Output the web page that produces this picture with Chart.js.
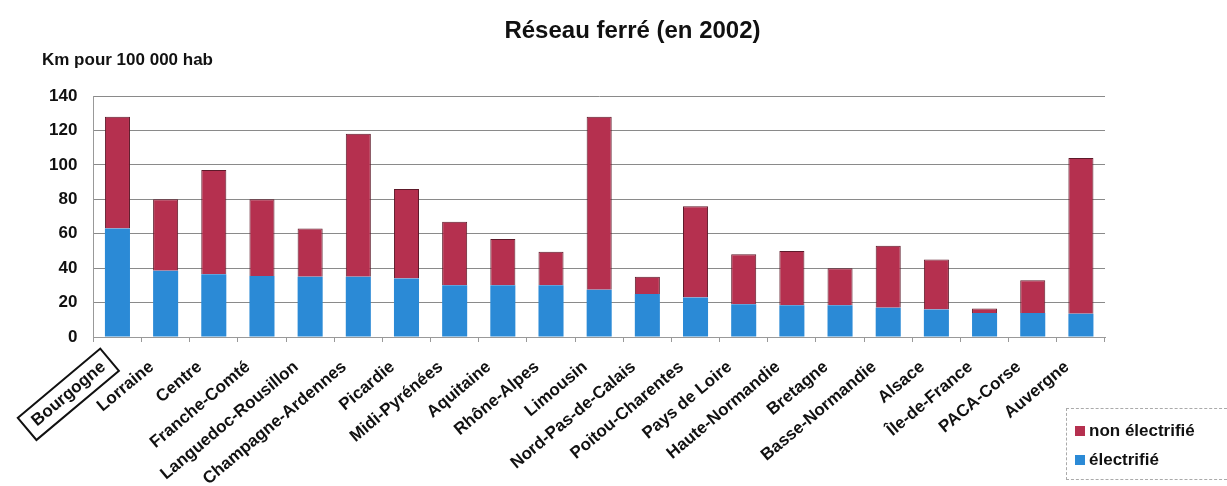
<!DOCTYPE html>
<html>
<head>
<meta charset="utf-8">
<script src="https://cdn.jsdelivr.net/npm/chart.js@4.4.1/dist/chart.umd.min.js"></script>
<style>
  body { margin: 0; background: #fff; font-family: "Liberation Sans", Arial, sans-serif; }
  #wrap { position: relative; width: 1227px; height: 486px; }
  #title { position: absolute; left: 0; width: 1265px; top: 16px; text-align: center; font-weight: bold; font-size: 24px; color: #111; }
  #unit { position: absolute; left: 42px; top: 50px; font-weight: bold; font-size: 17px; color: #111; }
  #legend { position: absolute; left: 1066px; top: 408px; width: 161px; height: 72px; border: 1px dashed #aaa; border-right: none; box-sizing: border-box; padding: 7px 0 0 8px; font-weight: bold; font-size: 17px; color: #111; }
  #legend div { height: 29px; line-height: 29px; }
  #legend span { display: inline-block; width: 10px; height: 10px; margin-right: 4px; }
</style>
</head>
<body>
<div id="wrap">
  <canvas id="railChart" width="1227" height="486"></canvas>
  <div id="title">Réseau ferré (en 2002)</div>
  <div id="unit">Km pour 100 000 hab</div>
  <div id="legend">
    <div><span style="background:#b5304f"></span>non électrifié</div>
    <div><span style="background:#2b8ad6"></span>électrifié</div>
  </div>
</div>
<script>
// Régions (ordre du graphique)
const regions = ['Bourgogne', 'Lorraine', 'Centre', 'Franche-Comté', 'Languedoc-Rousillon',
  'Champagne-Ardennes', 'Picardie', 'Midi-Pyrénées', 'Aquitaine', 'Rhône-Alpes', 'Limousin',
  'Nord-Pas-de-Calais', 'Poitou-Charentes', 'Pays de Loire', 'Haute-Normandie', 'Bretagne',
  'Basse-Normandie', 'Alsace', 'Île-de-France', 'PACA-Corse', 'Auvergne'];

// km pour 100 000 hab
const electrifie = [63, 38.5, 36.5, 35.5, 35, 35, 34, 30, 30, 30, 27.5, 25, 23, 19, 18.5, 18.5, 17, 16, 14, 14, 13.5];
const nonElectrifie = [65, 41.5, 60.5, 44.5, 28, 83, 52, 37, 27, 19.5, 100.5, 10, 53, 29, 31.5, 21.5, 36, 29, 2.5, 19, 90.5];

const yTicks = [0, 20, 40, 60, 80, 100, 120, 140];

// Cadre autour de la région mise en avant (Bourgogne)
const boxLabel = {
    id: 'boxLabel',
    afterDraw(chart) {
        const scale = chart.scales.x;
        const item = scale.getLabelItems()[0];
        if (!item) return;
        const ctx = chart.ctx;
        const o = item.options;
        ctx.save();
        ctx.font = item.font.string;
        const w = ctx.measureText(item.label).width;
        const h = item.font.size;
        const mid = item.textOffset || 0;
        ctx.translate(o.translation[0], o.translation[1]);
        ctx.rotate(o.rotation);
        ctx.strokeStyle = '#111';
        ctx.lineWidth = 2;
        ctx.strokeRect(-w - 9, mid - h / 2 - 6, w + 17, h + 12);
        ctx.restore();
    }
};

const ctx = document.getElementById('railChart').getContext('2d');
new Chart(ctx, {
    type: 'bar',
    data: {
        labels: regions,
        datasets: [{
            label: 'électrifié',
            data: electrifie,
            backgroundColor: '#2b8ad6',
            borderWidth: 0,
            barPercentage: 0.52,
            categoryPercentage: 1
        }, {
            label: 'non électrifié',
            data: nonElectrifie,
            backgroundColor: '#b5304f',
            borderColor: '#5e1a2a',
            borderWidth: 1,
            borderSkipped: 'bottom',
            barPercentage: 0.52,
            categoryPercentage: 1
        }]
    },
    options: {
        responsive: false,
        animation: false,
        layout: { padding: { top: 96, left: 33, right: 122, bottom: 0 } },
        plugins: {
            legend: { display: false },
            tooltip: { enabled: false }
        },
        scales: {
            x: {
                stacked: true,
                grid: { offset: true, drawOnChartArea: false, drawTicks: true, tickLength: 5, color: '#999' },
                border: { color: '#999' },
                ticks: {
                    minRotation: 40,
                    maxRotation: 40,
                    autoSkip: false,
                    padding: 15,
                    labelOffset: -14,
                    color: '#111',
                    font: { family: 'Liberation Sans', weight: 'bold', size: 17 }
                },
                afterFit(scale) { scale.height = 149; }
            },
            y: {
                stacked: true,
                min: 0,
                max: 140,
                afterBuildTicks(scale) { scale.ticks = yTicks.map(v => ({ value: v })); },
                grid: { color: '#8a8a8a', drawTicks: false },
                border: { color: '#999' },
                ticks: {
                    padding: 16,
                    color: '#111',
                    font: { family: 'Liberation Sans', weight: 'bold', size: 17 }
                }
            }
        }
    },
    plugins: [boxLabel]
});
</script>
</body>
</html>
